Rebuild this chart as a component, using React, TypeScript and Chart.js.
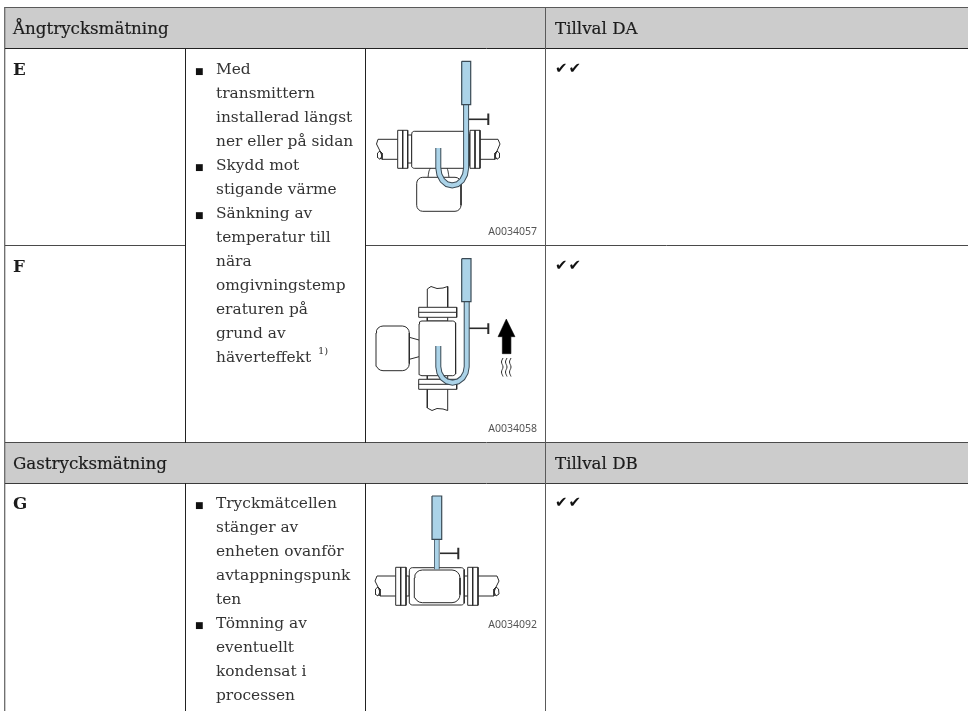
import React, { useEffect, useRef } from "react";
import { Chart, registerables } from "chart.js";

Chart.register(...registerables);

const PAGE_W = 968;
const PAGE_H = 711;

// ---- table text ----
const headerLabels = ["Ångtrycksmätning", "Gastrycksmätning"];
const optionLabels = ["Tillval DA", "Tillval DB"];
const rowLabels = ["E", "F", "G"];
const steamLines = [
  "Med", "transmittern", "installerad längst", "ner eller på sidan",
  "Skydd mot", "stigande värme", "Sänkning av", "temperatur till",
  "nära", "omgivningstemp", "eraturen på", "grund av", "häverteffekt",
];
const steamBullets = [0, 4, 6];
const gasLines = [
  "Tryckmätcellen", "stänger av", "enheten ovanför", "avtappningspunk",
  "ten", "Tömning av", "eventuellt", "kondensat i", "processen",
];
const gasBullets = [0, 5];
const figureCodes = ["A0034057", "A0034058", "A0034092"];
const checkMarks = ["✔✔", "✔✔", "✔✔"];

const headerBaselines = [34, 469];
const rowBaselines = [75, 271.5, 509];
const figureBaselines = [235, 432, 628];
const checkBaselines = [73, 270, 507];

// ---- table rules (flat x,y lists on the page axes) ----
const headerBand1 = [5, 8, 968, 8, 968, 48, 5, 48];
const headerBand2 = [5, 443, 968, 443, 968, 483, 5, 483];
const ruleTop = [4, 7.5, 968, 7.5];
const ruleLeft = [4.7, 7, 4.7, 711];
const ruleHead1 = [5, 48.5, 968, 48.5];
const ruleRowLeft = [5, 245.5, 185, 245.5];
const ruleRowRight = [365, 245.5, 968, 245.5];
const ruleGasTop = [5, 442.5, 968, 442.5];
const ruleGasBottom = [5, 483.5, 968, 483.5];
const ruleCol1a = [185.5, 48, 185.5, 443];
const ruleCol1b = [185.5, 483, 185.5, 711];
const ruleCol2a = [365.5, 48, 365.5, 443];
const ruleCol2b = [365.5, 483, 365.5, 711];
const ruleCol3 = [545.5, 8, 545.5, 711];

// ---- figure E ----
const eBox = [416.7, 177.3, 461, 211.3];
const eNeckL = [428, 177.5, 429, 171, 430.5, 168];
const eNeckR = [449, 177.5, 448, 171, 447, 168];
const eBody = [411.7, 131.3, 469, 168.3];
const eFlangeL = [397.7, 130.3, 407.7, 168.3];
const eFlangeLMid = [402.7, 130.3, 402.7, 168.3];
const eNeckBodyL = [407.7, 135, 411.7, 135, 411.7, 163, 407.7, 163];
const eFlangeR = [470, 130.3, 480, 168.3];
const eFlangeRMid = [475, 130.3, 475, 168.3];
const ePipeL = [397.7, 139.3, 378, 139.3, 376.5, 144, 380, 151, 382, 156, 380, 159.3, 377, 157, 377.5, 153, 380, 151, 382, 153, 382, 159.3, 397.7, 159.3];
const ePipeR = [480, 139.3, 498, 139.3, 500, 144, 497, 151, 495, 156, 497, 159.3, 500, 157, 499.5, 153, 497, 151, 495, 153, 495, 159.3, 480, 159.3];
const eTransmitter = [461.7, 61.3, 470.7, 61.3, 470.7, 104.7, 461.7, 104.7, 461.7, 61.3];
const eTube = [466.1, 104.7, 466.1, 168, 465, 174.7, 462, 180.4, 457.5, 184.2, 452.2, 185.5, 446.9, 184.2, 442.4, 180.4, 439.4, 174.7, 438.3, 168, 438.3, 148];
const eValve = [469, 119.3, 488.3, 119.3];
const eValveBar = [488.3, 113.5, 488.3, 125];

// ---- figure F ----
const fPipeTop = [427.3, 307.3, 427.3, 289, 431, 286.5, 437, 288.5, 443, 288, 447.7, 286.5, 447.7, 307.3];
const fPipeBottom = [427.3, 389.3, 427.3, 408, 432, 410.5, 437, 408.5, 443, 409, 447.7, 410.5, 447.7, 389.3];
const fFlangeTop = [418.7, 307.3, 456.7, 317.3];
const fFlangeTopMid = [418.7, 312.3, 456.7, 312.3];
const fFlangeBottom = [418.7, 379.3, 456.7, 389.3];
const fFlangeBottomMid = [418.7, 384.3, 456.7, 384.3];
const fNeckTop = [427.3, 317.3, 427.3, 321, 447.7, 321, 447.7, 317.3];
const fNeckBottom = [427.3, 375.7, 427.3, 379.3, 447.7, 379.3, 447.7, 375.7];
const fBody = [419, 321, 455.7, 375.7];
const fSideBox = [376, 326, 409.3, 370.7];
const fSideNeckA = [409.3, 337.3, 419, 340];
const fSideNeckB = [409.3, 359.3, 419, 356.7];
const fTransmitter = [461.7, 258.7, 471, 258.7, 471, 301.7, 461.7, 301.7, 461.7, 258.7];
const fTube = [466.7, 301.7, 466.7, 366.7, 465.6, 372.8, 462.6, 378, 458, 381.5, 452.5, 382.7, 447, 381.5, 442.4, 378, 439.4, 372.8, 438.3, 366.7, 438.3, 346];
const fValve = [469.3, 328.3, 488.3, 328.3];
const fValveBar = [488.3, 323.3, 488.3, 334];
const fArrow = [506.3, 319, 515, 336.7, 510.7, 336.7, 510.7, 353.7, 502.3, 353.7, 502.3, 336.7, 498, 336.7, 506.3, 319];
const fHeatA = [503, 358, 501.5, 362, 503, 367, 501.5, 372, 503, 376.5];
const fHeatB = [507, 358, 505.5, 362, 507, 367, 505.5, 372, 507, 376.5];
const fHeatC = [511, 358, 509.5, 362, 511, 367, 509.5, 372, 511, 376.5];

// ---- figure G ----
const gBodyOuter = [409.3, 567.7, 464.3, 605];
const gBodyInner = [414.3, 570, 460, 602.7];
const gFlangeL = [395.7, 567.3, 406, 605.3];
const gFlangeLMid = [400.7, 567.3, 400.7, 605.3];
const gFlangeR = [467.7, 567.3, 478, 605.3];
const gFlangeRMid = [472.7, 567.3, 472.7, 605.3];
const gNeckL = [406, 576, 409.3, 576, 409.3, 596, 406, 596];
const gNeckR = [467.7, 576, 464.3, 576, 464.3, 596, 467.7, 596];
const gPipeL = [395.7, 576, 377, 576, 375, 581, 378, 587, 380, 592, 378, 596, 375, 594, 375.5, 589, 378, 587, 380, 589, 380, 596, 395.7, 596];
const gPipeR = [478, 576, 497, 576, 499, 581, 496, 587, 494, 592, 496, 596, 499, 594, 498.5, 589, 496, 587, 494, 589, 494, 596, 478, 596];
const gTransmitter = [432, 496, 441.7, 496, 441.7, 539.3, 432, 539.3, 432, 496];
const gStem = [436.8, 539.3, 436.8, 569.3];
const gValve = [440, 553.3, 458.3, 553.3];
const gValveBar = [458.3, 547.7, 458.3, 559.3];

const INK = "#2b2b2b";
const BLUE = "#abd3e8";

type Shape = { d: number[]; c: string; w: number; fill?: string; smooth?: number };

const pts = (d: number[]) => {
  const out: { x: number; y: number }[] = [];
  for (let i = 0; i < d.length; i += 2) out.push({ x: d[i], y: d[i + 1] });
  return out;
};

// outline of a rectangle with rounded corners, as a closed point list
const ARC = [[1, 0], [0.924, 0.383], [0.707, 0.707], [0.383, 0.924], [0, 1]];
const rounded = ([x0, y0, x1, y1]: number[], r: number) => {
  const out: number[] = [];
  for (const [c, s] of ARC) out.push(x0 + r - r * c, y0 + r - r * s);
  for (const [c, s] of ARC) out.push(x1 - r + r * s, y0 + r - r * c);
  for (const [c, s] of ARC) out.push(x1 - r + r * c, y1 - r + r * s);
  for (const [c, s] of ARC) out.push(x0 + r - r * s, y1 - r + r * c);
  out.push(out[0], out[1]);
  return out;
};

const plainRect = ([x0, y0, x1, y1]: number[]) => [x0, y0, x1, y0, x1, y1, x0, y1, x0, y0];

// painter's order: first entry is underneath
const shapes: Shape[] = [
  { d: headerBand1, c: "#cccccc", w: 0, fill: "#cccccc" },
  { d: headerBand2, c: "#cccccc", w: 0, fill: "#cccccc" },
  { d: ruleTop, c: "#5a5a5a", w: 1 },
  { d: ruleLeft, c: "#6a6a6a", w: 1.3 },
  { d: ruleHead1, c: "#222222", w: 1 },
  { d: ruleRowLeft, c: "#4a4a4a", w: 1 },
  { d: ruleRowRight, c: "#4a4a4a", w: 1 },
  { d: ruleGasTop, c: "#4a4a4a", w: 1 },
  { d: ruleGasBottom, c: "#3a3a3a", w: 1 },
  { d: ruleCol1a, c: "#222222", w: 1 },
  { d: ruleCol1b, c: "#222222", w: 1 },
  { d: ruleCol2a, c: "#222222", w: 1 },
  { d: ruleCol2b, c: "#222222", w: 1 },
  { d: ruleCol3, c: "#5a5a5a", w: 1 },

  // figure E
  { d: ePipeL, c: INK, w: 1 },
  { d: ePipeR, c: INK, w: 1 },
  { d: eNeckL, c: INK, w: 0.9, smooth: 0.3 },
  { d: eNeckR, c: INK, w: 0.9, smooth: 0.3 },
  { d: rounded(eBox, 6), c: INK, w: 1, fill: "#ffffff" },
  { d: eNeckBodyL, c: INK, w: 1 },
  { d: rounded(eBody, 2.5), c: INK, w: 1, fill: "#ffffff" },
  { d: plainRect(eFlangeL), c: INK, w: 1, fill: "#ffffff" },
  { d: eFlangeLMid, c: INK, w: 1 },
  { d: plainRect(eFlangeR), c: INK, w: 1, fill: "#ffffff" },
  { d: eFlangeRMid, c: INK, w: 1 },
  { d: eTube, c: "#3a4a55", w: 6 },
  { d: eTube, c: BLUE, w: 4 },
  { d: eTransmitter, c: "#3a4a55", w: 1.2, fill: BLUE },
  { d: eValve, c: INK, w: 1.6 },
  { d: eValveBar, c: INK, w: 2 },

  // figure F
  { d: fPipeTop, c: INK, w: 1 },
  { d: fPipeBottom, c: INK, w: 1 },
  { d: fNeckTop, c: INK, w: 1 },
  { d: fNeckBottom, c: INK, w: 1 },
  { d: plainRect(fFlangeTop), c: INK, w: 1, fill: "#ffffff" },
  { d: fFlangeTopMid, c: INK, w: 1 },
  { d: plainRect(fFlangeBottom), c: INK, w: 1, fill: "#ffffff" },
  { d: fFlangeBottomMid, c: INK, w: 1 },
  { d: rounded(fBody, 3), c: INK, w: 1, fill: "#ffffff" },
  { d: rounded(fSideBox, 7), c: INK, w: 1, fill: "#ffffff" },
  { d: fSideNeckA, c: INK, w: 1 },
  { d: fSideNeckB, c: INK, w: 1 },
  { d: fTube, c: "#3a4a55", w: 6 },
  { d: fTube, c: BLUE, w: 4 },
  { d: fTransmitter, c: "#3a4a55", w: 1.2, fill: BLUE },
  { d: fValve, c: INK, w: 1.6 },
  { d: fValveBar, c: INK, w: 2 },
  { d: fArrow, c: "#000000", w: 0.5, fill: "#000000" },
  { d: fHeatA, c: INK, w: 1, smooth: 0.4 },
  { d: fHeatB, c: INK, w: 1, smooth: 0.4 },
  { d: fHeatC, c: INK, w: 1, smooth: 0.4 },

  // figure G
  { d: gPipeL, c: INK, w: 1 },
  { d: gPipeR, c: INK, w: 1 },
  { d: gNeckL, c: INK, w: 1 },
  { d: gNeckR, c: INK, w: 1 },
  { d: plainRect(gFlangeL), c: INK, w: 1, fill: "#ffffff" },
  { d: gFlangeLMid, c: INK, w: 1 },
  { d: plainRect(gFlangeR), c: INK, w: 1, fill: "#ffffff" },
  { d: gFlangeRMid, c: INK, w: 1 },
  { d: rounded(gBodyOuter, 3), c: INK, w: 1, fill: "#ffffff" },
  { d: rounded(gBodyInner, 8), c: INK, w: 1, fill: "#ffffff" },
  { d: gStem, c: "#3a4a55", w: 5.5 },
  { d: gStem, c: BLUE, w: 4 },
  { d: gTransmitter, c: "#3a4a55", w: 1.2, fill: BLUE },
  { d: gValve, c: INK, w: 1.6 },
  { d: gValveBar, c: INK, w: 2 },
];

const SERIF = '"DejaVu Serif", serif';
const BODY_SIZE = 15.4;
const HEAD_SIZE = 16.7;
const BODY_COLOR = "#333333";
const HEAD_COLOR = "#1c1c1c";

function Txt(p: {
  x: number;
  base: number;
  children: React.ReactNode;
  size?: number;
  color?: string;
  weight?: number;
  family?: string;
  right?: boolean;
  stroke?: number;
  spacing?: number;
}) {
  const size = p.size ?? BODY_SIZE;
  const lh = 24;
  const family = p.family ?? SERIF;
  const top = p.base - 12 - 0.35 * size;
  const style: React.CSSProperties = {
    position: "absolute",
    top,
    lineHeight: lh + "px",
    fontSize: size,
    fontFamily: family,
    color: p.color ?? BODY_COLOR,
    fontWeight: p.weight ?? 400,
    whiteSpace: "pre",
    letterSpacing: p.spacing ?? 0,
  };
  if (p.right) style.right = PAGE_W - p.x;
  else style.left = p.x;
  if (p.stroke) (style as any).WebkitTextStroke = p.stroke + "px";
  return <div style={style}>{p.children}</div>;
}

export default function App() {
  const ref = useRef<HTMLCanvasElement>(null);
  useEffect(() => {
    if (!ref.current) return;
    const chart = new Chart(ref.current, {
      type: "scatter",
      data: {
        datasets: [...shapes].reverse().map((s) => ({
          data: pts(s.d),
          showLine: true,
          borderColor: s.c,
          borderWidth: s.w,
          pointRadius: 0,
          tension: s.smooth ?? 0,
          fill: s.fill ? "shape" : false,
          backgroundColor: s.fill ?? "transparent",
        })),
      },
      options: {
        animation: false,
        responsive: false,
        events: [],
        layout: { padding: 0 },
        plugins: { legend: { display: false }, tooltip: { enabled: false }, title: { display: false } },
        scales: {
          x: { type: "linear", display: false, min: 0, max: PAGE_W },
          y: { type: "linear", display: false, min: 0, max: PAGE_H, reverse: true },
        },
      },
    });
    return () => chart.destroy();
  }, []);

  return (
    <div style={{ position: "fixed", left: 0, top: 0, width: PAGE_W, height: PAGE_H, overflow: "hidden", background: "#fff" }}>
      <canvas ref={ref} width={PAGE_W} height={PAGE_H} style={{ position: "absolute", left: 0, top: 0 }} />
      {headerLabels.map((t, i) => (
        <Txt key={t} x={13} base={headerBaselines[i]} size={HEAD_SIZE} color={HEAD_COLOR} stroke={0.2}>{t}</Txt>
      ))}
      {optionLabels.map((t, i) => (
        <Txt key={t} x={555} base={headerBaselines[i]} size={HEAD_SIZE} color={HEAD_COLOR} stroke={0.2}>{t}</Txt>
      ))}
      {rowLabels.map((t, i) => (
        <Txt key={t} x={13} base={rowBaselines[i]} size={HEAD_SIZE} color={HEAD_COLOR} weight={700}>{t}</Txt>
      ))}
      {steamLines.map((t, i) => (
        <Txt key={t} x={216} base={74.2 + 24 * i}>{t}</Txt>
      ))}
      {gasLines.map((t, i) => (
        <Txt key={t} x={216} base={508.2 + 24 * i}>{t}</Txt>
      ))}
      {steamBullets.map((k) => (
        <Txt key={"s" + k} x={195} base={74 + 24 * k} size={9} color="#111" family='"DejaVu Sans", sans-serif'>■</Txt>
      ))}
      {gasBullets.map((k) => (
        <Txt key={"g" + k} x={195} base={508 + 24 * k} size={9} color="#111" family='"DejaVu Sans", sans-serif'>■</Txt>
      ))}
      <Txt x={318} base={354} size={10} color={BODY_COLOR}>1)</Txt>
      {figureCodes.map((t, i) => (
        <Txt key={t} x={537} base={figureBaselines[i]} right size={10.5} color="#555555" family='"Noto Sans", sans-serif'>{t}</Txt>
      ))}
      {checkMarks.map((t, i) => (
        <Txt key={i} x={555} base={checkBaselines[i]} size={15} color="#111" family='"DejaVu Sans", sans-serif' spacing={1}>{t}</Txt>
      ))}
    </div>
  );
}
